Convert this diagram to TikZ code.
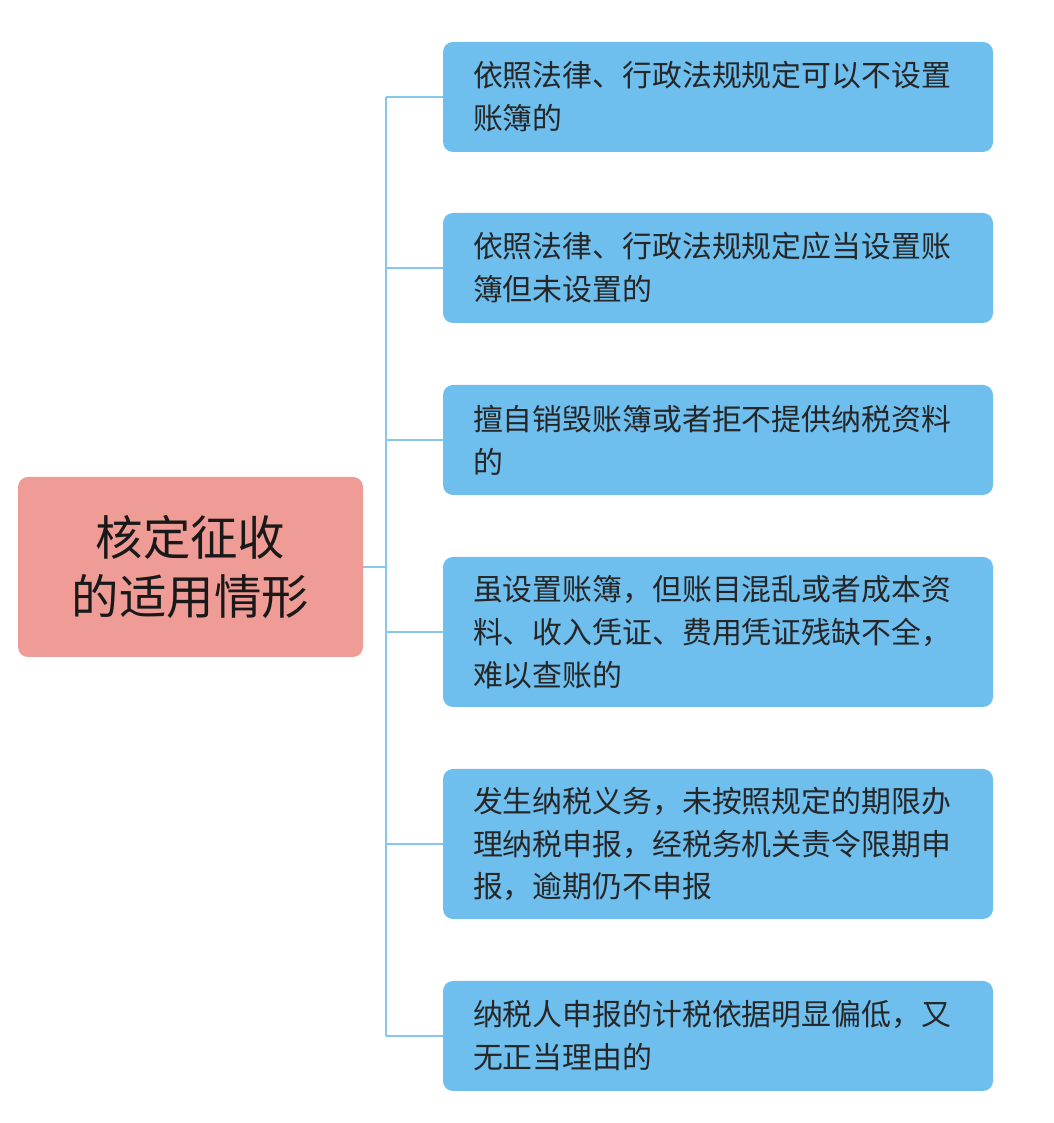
\documentclass[tikz,border=0pt]{standalone}
\usepackage{fontspec}
\setmainfont{Noto Sans CJK SC}
\usetikzlibrary{positioning}
\definecolor{rootpink}{HTML}{F09C96}
\definecolor{leafblue}{HTML}{6EBEEE}
\definecolor{linkblue}{HTML}{86C7EA}
\tikzset{
  root/.style={fill=rootpink,rounded corners=0.2cm,minimum width=6.9cm,minimum height=3.6cm,
    align=center,font=\fontsize{27}{34}\selectfont,text=black!90},
  leaf/.style={fill=leafblue,rounded corners=0.2cm,minimum width=10.8cm,text width=9.8cm,
    align=left,inner xsep=0.6cm,font=\fontsize{17}{24.4}\selectfont,text=black!85},
  link/.style={draw=linkblue,line width=1.5pt}
}
\begin{document}
\begin{tikzpicture}
\useasboundingbox (0,0) rectangle (21.08,22.46);

\node[root] (root) at (3.81,11.12) {核定征收\\的适用情形};

% leaves
\node[leaf,minimum height=2.2cm] (l1) at (14.36,20.52) {依照法律、行政法规规定可以不设置\\账簿的};
\node[leaf,minimum height=2.2cm] (l2) at (14.36,17.1) {依照法律、行政法规规定应当设置账\\簿但未设置的};
\node[leaf,minimum height=2.2cm] (l3) at (14.36,13.66) {擅自销毁账簿或者拒不提供纳税资料\\的};
\node[leaf,minimum height=3.0cm] (l4) at (14.36,9.82) {虽设置账簿，但账目混乱或者成本资\\料、收入凭证、费用凭证残缺不全，\\难以查账的};
\node[leaf,minimum height=3.0cm] (l5) at (14.36,5.58) {发生纳税义务，未按照规定的期限办\\理纳税申报，经税务机关责令限期申\\报，逾期仍不申报};
\node[leaf,minimum height=2.2cm] (l6) at (14.36,1.74) {纳税人申报的计税依据明显偏低，又\\无正当理由的};

\coordinate (trunk) at (7.72,11.12);
\draw[link] (root.east) -- (trunk);
\draw[link] (trunk |- l1.west) -- (trunk |- l6.west);
\foreach \n in {l1,l2,l3,l4,l5,l6}
  \draw[link] (trunk |- \n.west) -- (\n.west);

\end{tikzpicture}
\end{document}
